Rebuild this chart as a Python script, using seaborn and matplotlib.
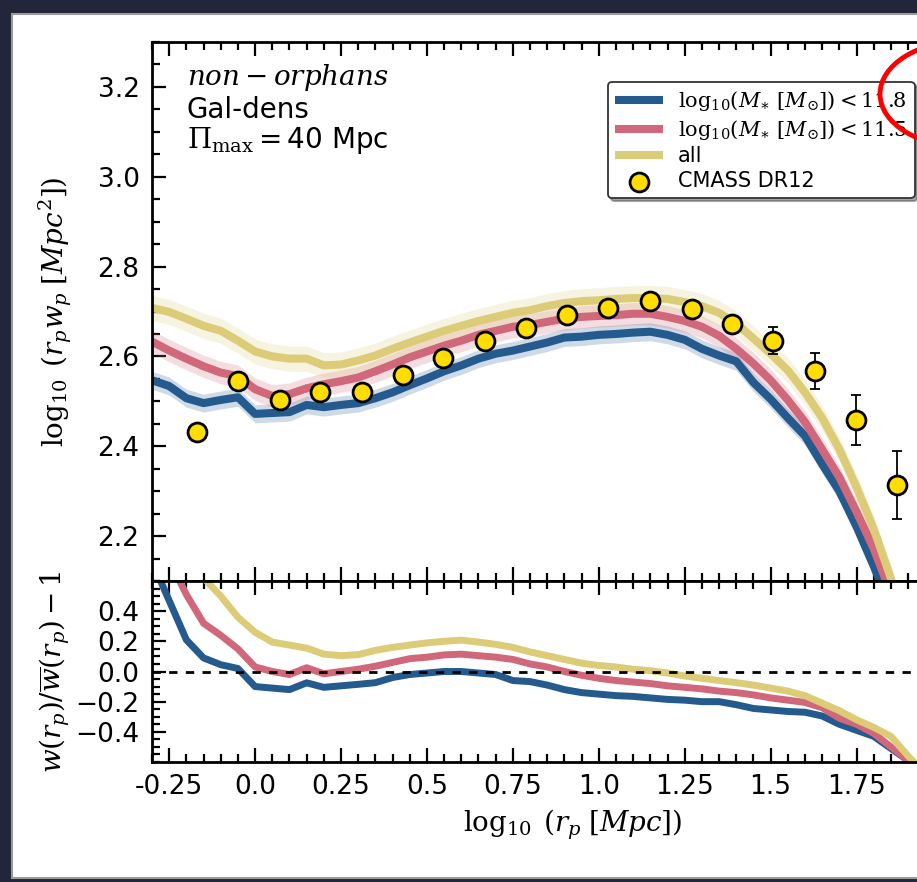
import numpy as np
import pandas as pd
import matplotlib
matplotlib.use("Agg")
import matplotlib.pyplot as plt
import seaborn as sns
from matplotlib.patches import Rectangle, Ellipse
from matplotlib.ticker import MultipleLocator

# ---------------- data ----------------
log_rp = [-0.30, -0.25, -0.20, -0.15, -0.10, -0.05, 0.00, 0.05, 0.10, 0.15,
          0.20, 0.25, 0.30, 0.35, 0.40, 0.45, 0.50, 0.55, 0.60, 0.65,
          0.70, 0.75, 0.80, 0.85, 0.90, 0.95, 1.00, 1.05, 1.10, 1.15,
          1.20, 1.25, 1.30, 1.35, 1.40, 1.45, 1.50, 1.55, 1.60, 1.65,
          1.70, 1.75, 1.80, 1.85, 1.90, 1.95]

wp_blue = [2.547, 2.534, 2.507, 2.496, 2.503, 2.509, 2.472, 2.474, 2.476, 2.492,
           2.487, 2.492, 2.496, 2.507, 2.520, 2.536, 2.551, 2.567, 2.580, 2.595,
           2.606, 2.613, 2.622, 2.631, 2.642, 2.644, 2.648, 2.650, 2.653, 2.655,
           2.648, 2.637, 2.617, 2.602, 2.589, 2.542, 2.505, 2.463, 2.423, 2.360,
           2.300, 2.221, 2.133, 2.040, 1.930, 1.810]
wp_red = [2.633, 2.613, 2.595, 2.578, 2.564, 2.556, 2.527, 2.512, 2.516, 2.529,
          2.538, 2.545, 2.553, 2.567, 2.582, 2.598, 2.611, 2.624, 2.635, 2.648,
          2.657, 2.666, 2.670, 2.677, 2.684, 2.688, 2.690, 2.692, 2.695, 2.695,
          2.688, 2.679, 2.666, 2.646, 2.617, 2.584, 2.547, 2.503, 2.454, 2.393,
          2.331, 2.254, 2.172, 2.073, 1.950, 1.820]
wp_all = [2.708, 2.699, 2.684, 2.668, 2.657, 2.635, 2.611, 2.600, 2.595, 2.595,
          2.580, 2.582, 2.591, 2.602, 2.617, 2.631, 2.644, 2.657, 2.668, 2.679,
          2.688, 2.697, 2.703, 2.712, 2.719, 2.723, 2.725, 2.728, 2.730, 2.730,
          2.728, 2.721, 2.712, 2.697, 2.673, 2.640, 2.606, 2.569, 2.520, 2.463,
          2.393, 2.309, 2.216, 2.106, 1.974, 1.840]
band_blue = 0.020
band_red = 0.025
band_all = 0.028

ratio_blue = [0.73, 0.47, 0.21, 0.09, 0.045, 0.02, -0.10, -0.11, -0.12, -0.075,
              -0.105, -0.095, -0.085, -0.074, -0.04, -0.02, -0.01, 0.0, 0.0, -0.01,
              -0.02, -0.06, -0.067, -0.09, -0.12, -0.14, -0.15, -0.16, -0.165, -0.175,
              -0.185, -0.19, -0.20, -0.20, -0.22, -0.245, -0.255, -0.265, -0.27, -0.295,
              -0.35, -0.39, -0.43, -0.51, -0.59, -0.68]
ratio_red = [0.97, 0.74, 0.51, 0.32, 0.24, 0.15, 0.03, 0.0, -0.02, 0.025,
             -0.015, 0.0, 0.015, 0.035, 0.06, 0.085, 0.095, 0.11, 0.115, 0.105,
             0.095, 0.08, 0.05, 0.03, 0.0, -0.025, -0.045, -0.06, -0.07, -0.08,
             -0.095, -0.105, -0.115, -0.13, -0.14, -0.155, -0.175, -0.19, -0.205, -0.24,
             -0.31, -0.35, -0.41, -0.50, -0.59, -0.68]
ratio_all = [1.0, 0.88, 0.75, 0.62, 0.50, 0.36, 0.26, 0.195, 0.175, 0.155,
             0.115, 0.105, 0.112, 0.14, 0.16, 0.175, 0.19, 0.20, 0.208, 0.195,
             0.18, 0.16, 0.13, 0.105, 0.08, 0.055, 0.04, 0.03, 0.015, 0.005,
             -0.01, -0.03, -0.045, -0.06, -0.074, -0.09, -0.11, -0.13, -0.16, -0.21,
             -0.26, -0.32, -0.37, -0.43, -0.56, -0.68]

cmass_x = [-0.170, -0.051, 0.071, 0.190, 0.310, 0.429, 0.548, 0.670, 0.789,
           0.908, 1.028, 1.150, 1.270, 1.388, 1.508, 1.629, 1.748, 1.868]
cmass_y = [2.432, 2.545, 2.503, 2.520, 2.520, 2.558, 2.597, 2.635, 2.664,
           2.692, 2.708, 2.723, 2.705, 2.673, 2.635, 2.567, 2.459, 2.313]
cmass_err = [0.004, 0.004, 0.004, 0.004, 0.004, 0.004, 0.004, 0.005, 0.005,
             0.005, 0.006, 0.007, 0.008, 0.012, 0.030, 0.040, 0.056, 0.076]

series_labels = [r"$\mathrm{log}_{10}(M_{\ast}\ [M_{\odot}]) < 11.8$",
                 r"$\mathrm{log}_{10}(M_{\ast}\ [M_{\odot}]) < 11.5$",
                 "all"]
cmass_label = "CMASS DR12"

xtick_vals = [-0.25, 0.0, 0.25, 0.5, 0.75, 1.0, 1.25, 1.5, 1.75]
xtick_labels = ["-0.25", "0.0", "0.25", "0.5", "0.75", "1.0", "1.25", "1.5", "1.75"]
ytop_ticks = [2.2, 2.4, 2.6, 2.8, 3.0, 3.2]
ytop_labels = ["2.2", "2.4", "2.6", "2.8", "3.0", "3.2"]
ybot_ticks = [-0.4, -0.2, 0.0, 0.2, 0.4]
ybot_labels = ["\u22120.4", "\u22120.2", "0.0", "0.2", "0.4"]

# ---------------- style ----------------
sns.set_style("ticks")
plt.rcParams["font.family"] = ["DejaVu Sans"]
plt.rcParams["mathtext.fontset"] = "dejavuserif"
plt.rcParams["text.color"] = "black"
plt.rcParams["axes.labelcolor"] = "black"
plt.rcParams["xtick.color"] = "black"
plt.rcParams["ytick.color"] = "black"
plt.rcParams["xtick.labelcolor"] = "black"
plt.rcParams["ytick.labelcolor"] = "black"

colors = ["#245a8d", "#d0677a", "#dccb77"]

W, H = 917, 882
fig = plt.figure(figsize=(W / 100, H / 100), dpi=100)
fig.patch.set_facecolor("#23253a")

# white slide panel
fig.add_artist(Rectangle((12 / W, 1 - 878 / H), 1.2, (878 - 14) / H,
                         transform=fig.transFigure, facecolor="white",
                         edgecolor="#9a9a9a", lw=1.5, zorder=-10))

ax_left, ax_right = 152, 994
top_t, mid, bot_b = 42, 581, 762
ax_top = fig.add_axes([ax_left / W, 1 - mid / H, (ax_right - ax_left) / W, (mid - top_t) / H])
ax_bot = fig.add_axes([ax_left / W, 1 - bot_b / H, (ax_right - ax_left) / W, (bot_b - mid) / H])

# ---- top panel ----
wps = [wp_blue, wp_red, wp_all]
bands = [band_blue, band_red, band_all]
for wp, band, c, lab in zip(wps, bands, colors, series_labels):
    arr = np.array(wp)
    ax_top.fill_between(log_rp, arr - band, arr + band, color=c, alpha=0.22, lw=0)
    sns.lineplot(x=log_rp, y=wp, color=c, lw=5.8, ax=ax_top, label=lab,
                 solid_capstyle="butt")

ax_top.errorbar(cmass_x, cmass_y, yerr=cmass_err, fmt="none", ecolor="black",
                elinewidth=1.3, capsize=3.3, capthick=1.3, zorder=5)
sns.scatterplot(x=cmass_x, y=cmass_y, color="#ffdd00", edgecolor="black",
                linewidth=2.0, s=185, ax=ax_top, label=cmass_label, zorder=6)

ax_top.set_xlim(-0.3, 2.15)
ax_top.set_ylim(2.1, 3.3)
ax_top.set_yticks(ytop_ticks)
ax_top.set_yticklabels(ytop_labels)
ax_top.set_xticks(xtick_vals + [2.0])
ax_top.xaxis.set_minor_locator(MultipleLocator(0.05))
ax_top.yaxis.set_minor_locator(MultipleLocator(0.05))
ax_top.tick_params(labelbottom=False)
ax_top.set_ylabel(r"$\log_{10}\;(r_p w_p\;[Mpc^2])$", fontsize=20, va="center")
ax_top.yaxis.set_label_coords(-0.1152, 0.5)
ax_top.set_xlabel("")

fs_txt = 20
ax_top.text(0.0415, 0.935, r"$non-orphans$", transform=ax_top.transAxes,
            fontsize=fs_txt, va="center", ha="left")
ax_top.text(0.0415, 0.874, "Gal-dens", transform=ax_top.transAxes,
            fontsize=fs_txt, va="center", ha="left")
ax_top.text(0.0415, 0.818, r"$\Pi_{\rm max} = $40 Mpc", transform=ax_top.transAxes,
            fontsize=fs_txt, va="center", ha="left")

leg = ax_top.legend(loc="upper left", bbox_to_anchor=((608 - ax_left) / (ax_right - ax_left),
                                                     (mid - 82) / (mid - top_t)),
                    borderaxespad=0, fontsize=15, frameon=True, fancybox=True,
                    shadow=True, framealpha=1, handlelength=2.3, handletextpad=0.7,
                    labelspacing=0.22, borderpad=0.35)
leg.get_frame().set_edgecolor("#333333")
leg.get_frame().set_linewidth(1.3)

# ---- bottom panel ----
ratios = [ratio_blue, ratio_red, ratio_all]
for r, c in zip(ratios, colors):
    sns.lineplot(x=log_rp, y=r, color=c, lw=5.0, ax=ax_bot, legend=False)
ax_bot.axhline(0.0, color="black", lw=2.0, ls=(0, (3, 3)))

ax_bot.set_xlim(-0.3, 2.15)
ax_bot.set_ylim(-0.6, 0.6)
ax_bot.set_xticks(xtick_vals + [2.0])
ax_bot.set_xticklabels(xtick_labels + [""])
ax_bot.set_yticks(ybot_ticks)
ax_bot.set_yticklabels(ybot_labels)
ax_bot.xaxis.set_minor_locator(MultipleLocator(0.05))
ax_bot.yaxis.set_minor_locator(MultipleLocator(0.05))
ax_bot.set_xlabel(r"$\log_{10}\;(r_p\;[Mpc])$", fontsize=20, va="center")
ax_bot.xaxis.set_label_coords(0.5, -0.348)
ax_bot.set_ylabel(r"$w(r_p)/\overline{w}(r_p)-1$", fontsize=20, va="center")
ax_bot.yaxis.set_label_coords(-0.1152, 0.5)

for ax in (ax_top, ax_bot):
    ax.set_facecolor("white")
    for sp in ax.spines.values():
        sp.set_visible(True)
        sp.set_linewidth(2.0)
        sp.set_color("black")
    ax.tick_params(which="both", direction="in", top=True, right=True,
                   bottom=True, left=True, color="black", width=1.6,
                   labelcolor="black")
    ax.tick_params(which="major", length=10, labelsize=19, pad=9)
    ax.tick_params(which="minor", length=5.5)

# red presentation circle
fig.add_artist(Ellipse((965 / W, 1 - 94 / H), 170 / W, 106 / H,
                       transform=fig.transFigure, facecolor="none",
                       edgecolor="#ff0000", lw=3.5, zorder=20))

fig.savefig("out.png", dpi=100, facecolor=fig.get_facecolor())
